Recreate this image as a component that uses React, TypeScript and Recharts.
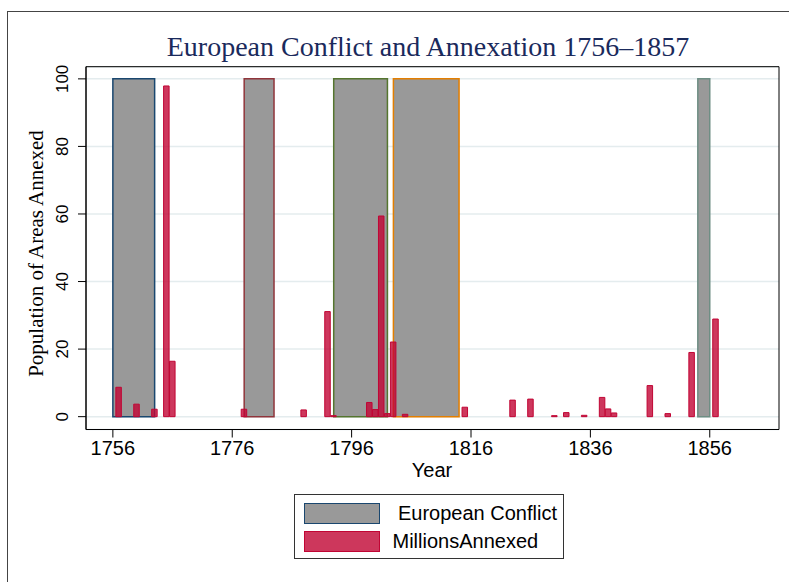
import React from 'react';
import {
  ComposedChart,
  Bar,
  XAxis,
  YAxis,
  CartesianGrid,
  ReferenceArea,
  Legend,
  Customized,
} from 'recharts';

// ---- Data ----
const annexYears = [
  1757, 1760, 1763, 1765, 1766, 1778, 1788, 1792, 1793, 1799, 1800, 1801, 1802, 1803,
  1805, 1815, 1823, 1826, 1830, 1832, 1835, 1838, 1839, 1840, 1846, 1849, 1853, 1857,
];
const millionsAnnexed = [
  8.7, 3.7, 2.2, 97.9, 16.4, 2.2, 2.0, 31.1, 0.3, 4.2, 2.1, 59.4, 0.9, 22.1,
  0.7, 2.8, 4.9, 5.2, 0.3, 1.2, 0.4, 5.7, 2.3, 1.1, 9.2, 0.9, 19.0, 28.9,
];
const conflictStart = [1756, 1778, 1793, 1803, 1854];
const conflictEnd = [1763, 1783, 1802, 1814, 1856];
const conflictLevel = 100;
const xTicks = [1756, 1776, 1796, 1816, 1836, 1856];
const yTicks = [0, 20, 40, 60, 80, 100];

// ---- Styling / layout ----
const W = 789;
const H = 582;
const X_DOMAIN: [number, number] = [1751.5, 1867.6];
const Y_DOMAIN: [number, number] = [-3.8, 103.6];
const conflictEdgeColors = ['#1a476f', '#90353b', '#55752f', '#e37e00', '#6e8e84'];
const CRANBERRY = '#c10534';
const GRAY = '#999999';
const SANS = '"Liberation Sans", Arial, Helvetica, sans-serif';
const SERIF = '"Liberation Serif", "Times New Roman", Times, serif';

const chartData = annexYears.map((year, i) => ({ year, MillionsAnnexed: millionsAnnexed[i] }));

const XTick = (props: any) => {
  const { x, y, payload } = props;
  return (
    <text x={x} y={y + 15.5} textAnchor="middle" fontFamily={SANS} fontSize={20} fill="#000">
      {payload.value}
    </text>
  );
};

const YTick = (props: any) => {
  const { y, payload } = props;
  const bx = 68.3;
  return (
    <text
      x={bx}
      y={y}
      transform={`rotate(-90, ${bx}, ${y})`}
      textAnchor="middle"
      fontFamily={SANS}
      fontSize={17}
      fill="#000"
    >
      {payload.value}
    </text>
  );
};

const Texts = () => (
  <g>
    <text x={428} y={56} textAnchor="middle" fontFamily={SERIF} fontSize={28} fill="#1a2a5c">
      European Conflict and Annexation 1756–1857
    </text>
    <text x={432} y={477} textAnchor="middle" fontFamily={SANS} fontSize={20} fill="#000">
      Year
    </text>
    <text
      x={43}
      y={253.5}
      transform="rotate(-90, 43, 253.5)"
      textAnchor="middle"
      fontFamily={SERIF}
      fontSize={21}
      fill="#000"
    >
      Population of Areas Annexed
    </text>
  </g>
);

const LegendBox = () => (
  <div
    style={{
      position: 'relative',
      width: 270,
      height: 65,
      border: '1px solid #333',
      boxSizing: 'border-box',
      background: '#fff',
      fontFamily: SANS,
      fontSize: 20,
      color: '#000',
    }}
  >
    <div
      style={{
        position: 'absolute',
        left: 9,
        top: 8,
        width: 76,
        height: 21,
        background: GRAY,
        border: `1.5px solid ${conflictEdgeColors[0]}`,
        boxSizing: 'border-box',
      }}
    />
    <div style={{ position: 'absolute', left: 103, top: 7, lineHeight: '23px', whiteSpace: 'nowrap' }}>
      European Conflict
    </div>
    <div
      style={{
        position: 'absolute',
        left: 9,
        top: 36,
        width: 76,
        height: 21,
        background: '#cd375c',
        border: `1px solid ${CRANBERRY}`,
        boxSizing: 'border-box',
      }}
    />
    <div style={{ position: 'absolute', left: 97.5, top: 35, lineHeight: '23px', whiteSpace: 'nowrap' }}>
      MillionsAnnexed
    </div>
  </div>
);

export default function App() {
  return (
    <div
      style={{
        position: 'absolute',
        left: 0,
        top: 0,
        width: W,
        height: H,
        overflow: 'hidden',
        background: '#fff',
      }}
    >
      <div
        style={{
          position: 'absolute',
          left: 7,
          top: 11,
          width: 900,
          height: 700,
          borderTop: '1px solid #444',
          borderLeft: '1px solid #444',
        }}
      />
      <div style={{ position: 'absolute', left: 0, top: 0 }}>
        <ComposedChart
          width={W}
          height={H}
          data={chartData}
          margin={{ top: 66.7, right: 10, bottom: 122.5, left: 0 }}
        >
          <CartesianGrid horizontal vertical={false} stroke="#e4ecee" strokeWidth={1.5} />
          {conflictStart.map((s, i) => (
            <ReferenceArea
              key={`c${i}`}
              x1={s}
              x2={conflictEnd[i]}
              y1={0}
              y2={conflictLevel}
              fill={GRAY}
              fillOpacity={1}
              stroke={conflictEdgeColors[i]}
              strokeWidth={1.5}
              ifOverflow="visible"
            />
          ))}
          <XAxis
            dataKey="year"
            type="number"
            domain={X_DOMAIN}
            allowDataOverflow
            ticks={xTicks}
            interval={0}
            tickSize={8}
            tickLine={{ stroke: '#000' }}
            axisLine={{ stroke: '#000' }}
            height={30}
            tick={<XTick />}
          />
          <YAxis
            type="number"
            domain={Y_DOMAIN}
            allowDataOverflow
            ticks={yTicks}
            interval={0}
            tickSize={8}
            tickLine={{ stroke: '#000' }}
            axisLine={{ stroke: '#000' }}
            width={86}
            tick={<YTick />}
          />
          <Bar
            dataKey="MillionsAnnexed"
            fill={CRANBERRY}
            fillOpacity={0.8}
            stroke={CRANBERRY}
            strokeWidth={1}
            barSize={5.5}
            isAnimationActive={false}
          />
          <ReferenceArea
            x1={X_DOMAIN[0]}
            x2={X_DOMAIN[1]}
            y1={Y_DOMAIN[0]}
            y2={Y_DOMAIN[1]}
            fill="none"
            fillOpacity={0}
            stroke="#000"
            strokeWidth={1}
            ifOverflow="visible"
          />
          <Customized component={Texts} />
          <Legend
            layout="vertical"
            align="center"
            verticalAlign="middle"
            wrapperStyle={{ left: 294, top: 494, width: 270, height: 65 }}
            content={() => <LegendBox />}
          />
        </ComposedChart>
      </div>
    </div>
  );
}
